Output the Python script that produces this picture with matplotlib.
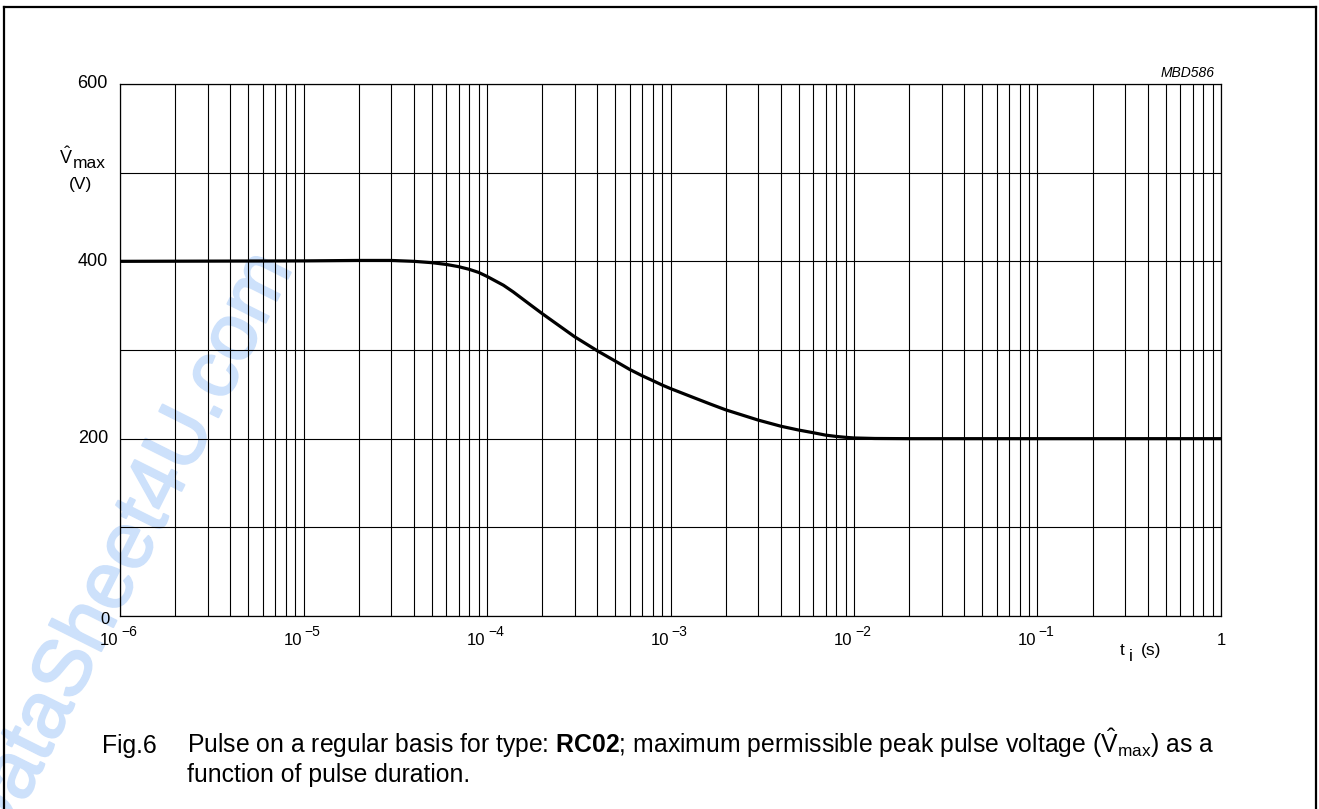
import numpy as np
import matplotlib
matplotlib.use("Agg")
import matplotlib.pyplot as plt
import matplotlib.patheffects as pe
from matplotlib.lines import Line2D
from matplotlib.transforms import offset_copy

plt.rcParams['font.family'] = ['Liberation Sans', 'DejaVu Sans']
plt.rcParams['mathtext.fontset'] = 'custom'
plt.rcParams['mathtext.rm'] = 'Liberation Sans'
plt.rcParams['mathtext.it'] = 'Liberation Sans:italic'
plt.rcParams['mathtext.bf'] = 'Liberation Sans:bold'

# pulse duration (s) and max peak pulse voltage (V)
t_pulse = [1e-6, 1e-5, 2e-5, 3e-5, 4e-5, 5e-5, 6e-5, 7e-5, 8e-5, 9e-5, 1e-4,
           1.23e-4, 1.39e-4, 1.71e-4, 2e-4, 3e-4, 4e-4, 5e-4, 6e-4, 7e-4,
           8e-4, 9e-4, 1e-3, 1.33e-3, 1.64e-3, 2e-3, 3e-3, 4e-3, 5e-3,
           6e-3, 7e-3, 8e-3, 9e-3, 1e-2, 1.3e-2, 2e-2, 1e-1, 1]
v_max = [400, 400.5, 401, 401, 400, 398.5, 396.5, 394, 391, 387.5, 383,
         373, 365.5, 351.5, 341, 315, 299, 287.5, 278, 271,
         265.5, 260.5, 256.5, 246.5, 239.2, 232.5, 221, 214, 209.7,
         206.7, 204, 202.5, 201.5, 200.8, 200.2, 200, 200, 200]

x_ticks = [1e-6, 1e-5, 1e-4, 1e-3, 1e-2, 1e-1]
x_exps = ['\u22126', '\u22125', '\u22124', '\u22123', '\u22122', '\u22121']
y_ticks = [600, 400, 200]

W, H = 1319, 809
fig = plt.figure(figsize=(W / 100, H / 100), dpi=100)

def fx(px):
    return px / W

def fy(py):
    return 1 - py / H

ax = fig.add_axes([fx(120), fy(616), fx(1221) - fx(120), fy(84) - fy(616)])
ax.set_facecolor('none')
ax.set_xscale('log')
ax.set_xlim(1e-6, 1)
ax.set_ylim(0, 600)
ax.set_yticks(range(0, 601, 100))
ax.grid(which='both', axis='x', color='black', lw=0.8)
ax.grid(which='major', axis='y', color='black', lw=0.8)
ax.tick_params(which='both', length=0, labelbottom=False, labelleft=False)
for s in ax.spines.values():
    s.set_linewidth(0.9)

ax.plot(t_pulse, v_max, color='black', lw=2.3, solid_capstyle='butt',
        solid_joinstyle='round', zorder=3)

# x tick labels: "10" plus a raised exponent
tr = ax.get_xaxis_transform()
y_base = -29 / 532
for xv, ex in zip(x_ticks, x_exps):
    ax.text(xv, y_base, '10', transform=offset_copy(tr, fig=fig, x=-1.5, y=0, units='dots'),
            ha='right', va='baseline', fontsize=12)
    ax.text(xv, y_base, ex, transform=offset_copy(tr, fig=fig, x=1, y=9, units='dots'),
            ha='left', va='baseline', fontsize=10)
ax.text(1, y_base, '1', transform=tr, ha='center', va='baseline', fontsize=12)

for yv in y_ticks:
    fig.text(fx(108), fy(84 + (600 - yv) * 532 / 600), str(yv), ha='right', va='center', fontsize=13)
fig.text(fx(100), fy(620), '0', ha='left', va='center', fontsize=12)

# axis titles
fig.text(fx(73), fy(164), r'$\hat{\mathrm{V}}$', ha='right', va='baseline', fontsize=13)
fig.text(fx(73), fy(168), 'max', ha='left', va='baseline', fontsize=12.5)
fig.text(fx(81), fy(184), '(V)', ha='center', va='center', fontsize=12.5)
fig.text(fx(1120), fy(655), 't', ha='left', va='baseline', fontsize=12.5)
fig.text(fx(1129), fy(661), 'i', ha='left', va='baseline', fontsize=12.5)
fig.text(fx(1141), fy(655), '(s)', ha='left', va='baseline', fontsize=12.5)
fig.text(fx(1215), fy(77), 'MBD586', ha='right', va='baseline', fontsize=10, style='italic')

# caption
fig.text(fx(102), fy(753), 'Fig.6', ha='left', va='baseline', fontsize=17.8)
fig.text(fx(187), fy(753),
         r'Pulse on a regular basis for type: $\mathbf{RC02}$; maximum permissible peak pulse voltage ($\hat{\mathrm{V}}_{\mathrm{max}}$) as a',
         ha='left', va='baseline', fontsize=17.8)
fig.text(fx(187), fy(782), 'function of pulse duration.', ha='left', va='baseline', fontsize=17.8)

# watermark
fig.text(fx(293), fy(268), 'DataSheet4U.com', rotation=63.4, rotation_mode='anchor',
         ha='right', va='baseline', fontsize=58, color='#cde1fb', zorder=-1,
         path_effects=[pe.withStroke(linewidth=1.5, foreground='#cde1fb')])

# page frame
fr = dict(color='black', lw=1.6, transform=fig.transFigure)
fig.add_artist(Line2D([fx(4), fx(4)], [0, fy(7)], **fr))
fig.add_artist(Line2D([fx(4), fx(1316)], [fy(7), fy(7)], **fr))
fig.add_artist(Line2D([fx(1316), fx(1316)], [fy(7), 0], **fr))

fig.savefig('out.png', dpi=100)
